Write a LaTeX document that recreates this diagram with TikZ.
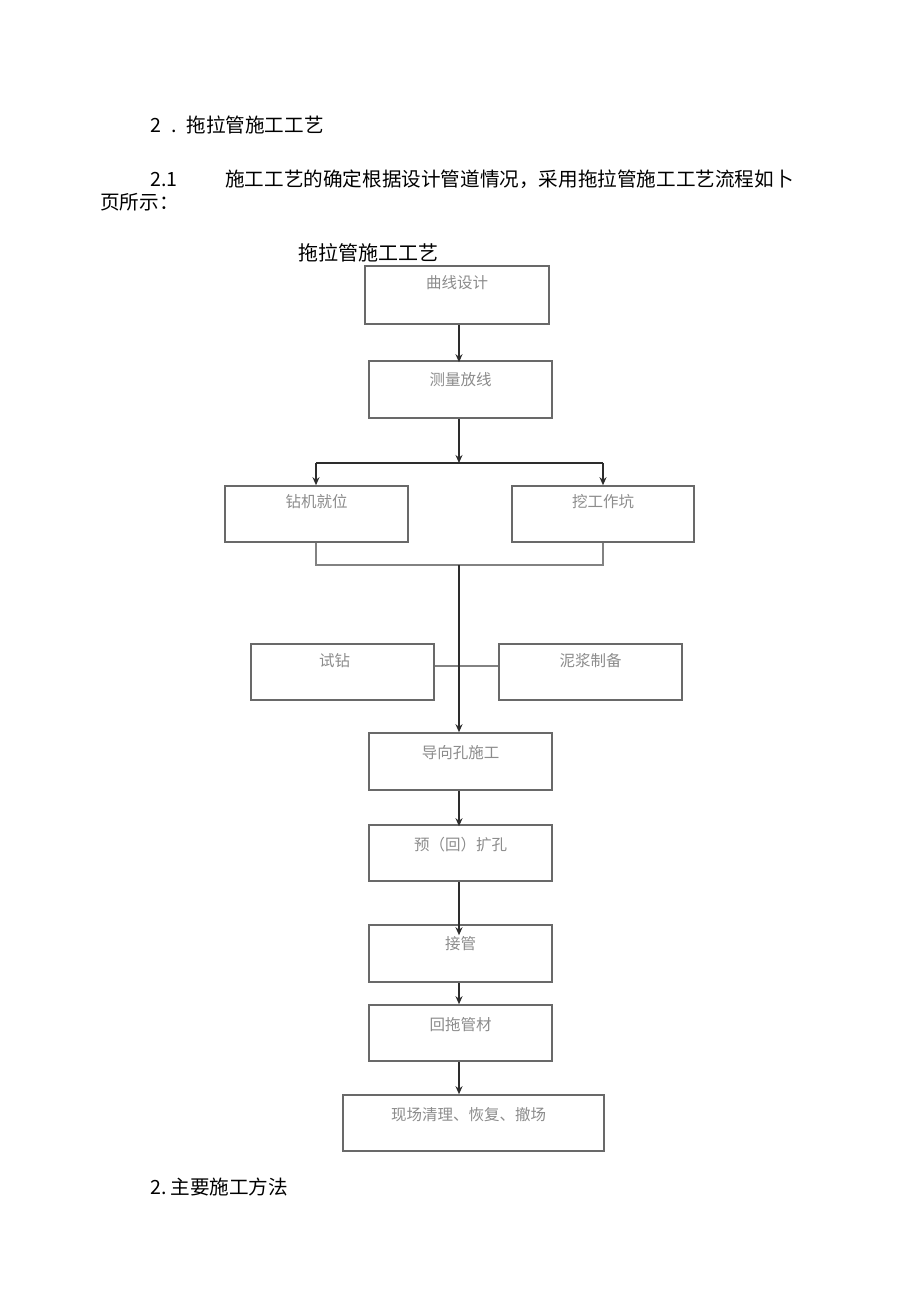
\documentclass[tikz,border=0pt]{standalone}
\usepackage{fontspec}
\setmainfont{Noto Sans CJK SC}
\usetikzlibrary{arrows.meta}
\definecolor{boxline}{RGB}{105,105,105}
\definecolor{boxtxt}{RGB}{140,140,140}
\definecolor{arrowc}{RGB}{45,45,45}
\definecolor{thinline}{RGB}{130,130,130}
\tikzset{
  stepbox/.style={draw=boxline, line width=1.6pt, fill=white, rectangle, inner sep=0pt},
  boxtext/.style={text=boxtxt, font=\fontsize{15.5}{15.5}\selectfont, inner sep=0pt},
  bodytext/.style={text=black, font=\fontsize{19.6}{19.6}\selectfont, inner sep=0pt, anchor=west},
  flow/.style={draw=arrowc, line width=2pt, -{Stealth[length=8pt,width=7pt]}},
  plainflow/.style={draw=arrowc, line width=2pt},
  greyline/.style={draw=thinline, line width=1.4pt}
}
\begin{document}
\begin{tikzpicture}[x=1pt,y=-1pt]
\useasboundingbox (0,0) rectangle (920,1301);
\fill[white] (0,0) rectangle (920,1301);

% body text
\node[bodytext] (h1) at (150,125) {2\hspace{10pt}.\hspace{10pt}拖拉管施工工艺};
\node[bodytext] (p1) at (150,179) {2.1\hspace{48pt}施工工艺的确定根据设计管道情况，采用拖拉管施工工艺流程如卜};
\node[bodytext] (p2) at (100,202) {页所示：};
\node[bodytext, font=\fontsize{20}{20}\selectfont] (title) at (298,253) {拖拉管施工工艺};
\node[bodytext] (h2) at (150,1187) {2.\hspace{4pt}主要施工方法};

% boxes
\node[stepbox, minimum width=184pt, minimum height=58pt] (b1) at (457,295) {};
\node[stepbox, minimum width=183pt, minimum height=57pt] (b2) at (460.5,389.5) {};
\node[stepbox, minimum width=183pt, minimum height=56pt] (b3) at (316.5,514) {};
\node[stepbox, minimum width=182pt, minimum height=56pt] (b4) at (603,514) {};
\node[stepbox, minimum width=183pt, minimum height=56pt] (b5) at (342.5,672) {};
\node[stepbox, minimum width=183pt, minimum height=56pt] (b6) at (590.5,672) {};
\node[stepbox, minimum width=183pt, minimum height=57pt] (b7) at (460.5,761.5) {};
\node[stepbox, minimum width=183pt, minimum height=56pt] (b8) at (460.5,853) {};
\node[stepbox, minimum width=183pt, minimum height=57pt] (b9) at (460.5,953.5) {};
\node[stepbox, minimum width=183pt, minimum height=56pt] (b10) at (460.5,1033) {};
\node[stepbox, minimum width=261pt, minimum height=56pt] (b11) at (473.5,1123) {};

% box texts
\node[boxtext] (t1) at ([yshift=-17pt]b1.north) {曲线设计};
\node[boxtext] (t2) at ([yshift=-19pt]b2.north) {测量放线};
\node[boxtext] (t3) at ([yshift=-16pt]b3.north) {钻机就位};
\node[boxtext] (t4) at ([yshift=-16pt]b4.north) {挖工作坑};
\node[boxtext] (t5) at ([xshift=-8pt,yshift=-17pt]b5.north) {试钻};
\node[boxtext] (t6) at ([yshift=-17pt]b6.north) {泥浆制备};
\node[boxtext] (t7) at ([yshift=-20pt]b7.north) {导向孔施工};
\node[boxtext] (t8) at ([yshift=-20pt]b8.north) {预（回）扩孔};
\node[boxtext] (t9) at ([yshift=-19pt]b9.north) {接管};
\node[boxtext] (t10) at ([yshift=-20pt]b10.north) {回拖管材};
\node[boxtext] (t11) at ([xshift=-5pt,yshift=-20pt]b11.north) {现场清理、恢复、撤场};

% junction coordinates
\coordinate (j1) at (459,463);
\coordinate (jl) at (316,463);
\coordinate (jr) at (603,463);
\coordinate (k1) at (459,565);
\coordinate (kl) at (316,565);
\coordinate (kr) at (603,565);
\coordinate (m1) at (459,666);

% connectors
\draw[flow] (b1.south -| 459,0) -- ([yshift=-2pt]b2.north -| 459,0);
\draw[flow] (b2.south -| j1) -- (j1);
\draw[plainflow] (jl) -- (jr);
\draw[flow] (jl) -- (b3.north -| jl);
\draw[flow] (jr) -- (b4.north -| jr);
\draw[greyline] (b3.south -| kl) -- (kl) -- (kr) -- (b4.south -| kr);
\draw[greyline] (b5.east |- m1) -- (m1);
\draw[greyline] (m1) -- (b6.west |- m1);
\draw[flow] (k1) -- (b7.north -| k1);
\draw[flow] (b7.south -| 459,0) -- ([yshift=-2pt]b8.north -| 459,0);
\draw[flow] (b8.south -| 459,0) -- ([yshift=-11pt]b9.north -| 459,0);
\draw[flow] (b9.south -| 459,0) -- (b10.north -| 459,0);
\draw[flow] (b10.south -| 459,0) -- (b11.north -| 459,0);
\end{tikzpicture}
\end{document}
